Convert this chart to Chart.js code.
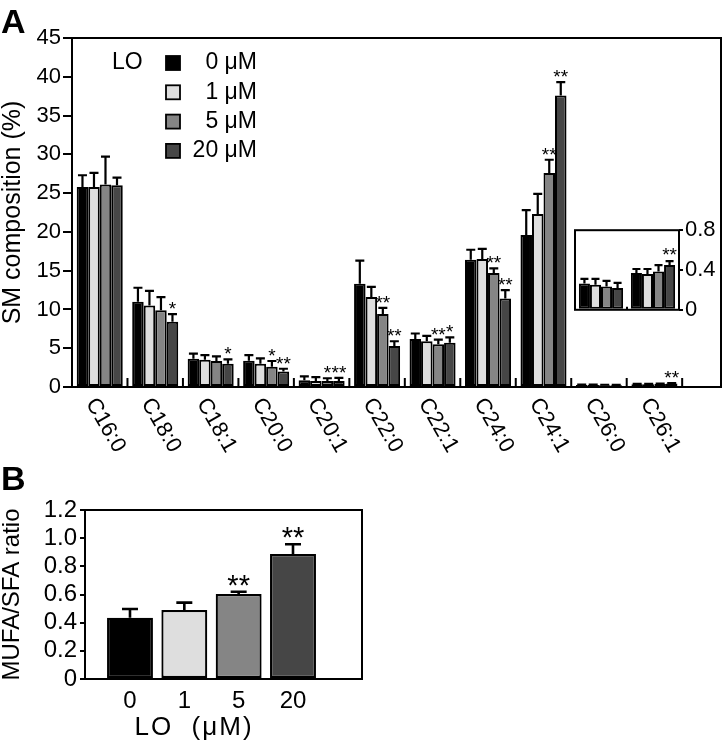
<!DOCTYPE html>
<html>
<head>
<meta charset="utf-8">
<script src="https://cdn.jsdelivr.net/npm/chart.js@4.4.0/dist/chart.umd.min.js"></script>
<style>
  html, body { margin: 0; padding: 0; background: #fff; }
  #wrap { position: relative; width: 724px; height: 749px; overflow: hidden; }
  .panel { position: absolute; }
  .tag { position: absolute; font: bold 34px "Liberation Sans", Arial, sans-serif; line-height: 1; }
</style>
</head>
<body>
<div id="wrap">
  <div class="panel" style="left:0;top:0;width:724px;height:470px"><canvas id="smChart"></canvas></div>
  <div class="panel" style="left:566px;top:215px;width:158px;height:110px"><canvas id="insetChart"></canvas></div>
  <div class="panel" style="left:0;top:460px;width:380px;height:289px"><canvas id="ratioChart"></canvas></div>
  <div class="tag" style="left:1px;top:4px">A</div>
  <div class="tag" style="left:1px;top:461px">B</div>
</div>
<script>
// SM species and LO doses
const fattyAcids = ['C16:0', 'C18:0', 'C18:1', 'C20:0', 'C20:1', 'C22:0', 'C22:1', 'C24:0', 'C24:1', 'C26:0', 'C26:1'];
const doseNames = ['0 \u03bcM', '1 \u03bcM', '5 \u03bcM', '20 \u03bcM'];

// SM composition (%), mean and SD
const lo0 = [25.8, 11.0, 3.65, 3.4, 0.86, 13.3, 6.2, 16.4, 19.6, 0.265, 0.37];
const lo1 = [25.8, 10.5, 3.5, 3.0, 0.78, 11.6, 5.9, 16.5, 22.3, 0.253, 0.36];
const lo5 = [26.1, 9.9, 3.35, 2.6, 0.78, 9.4, 5.5, 14.7, 27.6, 0.235, 0.385];
const lo20 = [26.0, 8.4, 3.0, 2.0, 0.78, 5.3, 5.7, 11.4, 37.6, 0.22, 0.45];
const lo0Sd = [1.5, 1.8, 0.65, 0.7, 0.5, 3.0, 0.7, 1.3, 3.2, 0.045, 0.04];
const lo1Sd = [1.8, 1.9, 0.6, 0.7, 0.5, 1.3, 0.7, 1.3, 2.6, 0.057, 0.05];
const lo5Sd = [3.6, 1.7, 0.6, 0.75, 0.35, 0.8, 0.6, 0.6, 1.7, 0.055, 0.065];
const lo20Sd = [1.0, 1.0, 0.55, 0.35, 0.4, 0.6, 0.7, 1.1, 1.7, 0.05, 0.04];
const lo0Stars = ['', '', '', '', '', '', '', '', '', '', ''];
const lo1Stars = ['', '', '', '', '', '', '', '', '', '', ''];
const lo5Stars = ['', '', '', '*', '*', '**', '**', '**', '**', '', ''];
const lo20Stars = ['', '*', '*', '**', '**', '**', '*', '**', '**', '', '**'];

// MUFA/SFA ratio
const doseTicks = ['0', '1', '5', '20'];
const mufaSfa = [0.435, 0.49, 0.604, 0.888];
const mufaSfaSd = [0.062, 0.052, 0.016, 0.069];
const mufaSfaStars = ['', '', '**', '**'];

const FONT = '"Liberation Sans", Arial, Helvetica, sans-serif';
const barColors = ['#000000', '#dedede', '#858585', '#464646'];

Chart.defaults.font.family = FONT;
Chart.defaults.color = '#000';

function drawErrors(chart, capHalf, lw, starSize, starLift) {
    const ctx = chart.ctx;
    const y = chart.scales.y;
    ctx.save();
    ctx.strokeStyle = '#000';
    ctx.fillStyle = '#000';
    ctx.lineWidth = lw;
    ctx.font = starSize + 'px ' + FONT;
    ctx.textAlign = 'center';
    ctx.textBaseline = 'alphabetic';
    chart.data.datasets.forEach(function (ds, i) {
        chart.getDatasetMeta(i).data.forEach(function (bar, j) {
            const top = y.getPixelForValue(ds.data[j] + ds.sd[j]);
            ctx.beginPath();
            ctx.moveTo(bar.x, bar.y);
            ctx.lineTo(bar.x, top);
            ctx.moveTo(bar.x - capHalf, top);
            ctx.lineTo(bar.x + capHalf, top);
            ctx.stroke();
            if (ds.stars && ds.stars[j]) {
                ctx.fillText(ds.stars[j], bar.x, top + starLift);
            }
        });
    });
    ctx.restore();
}

function drawFrame(chart, lw) {
    const a = chart.chartArea;
    const ctx = chart.ctx;
    ctx.save();
    ctx.strokeStyle = '#000';
    ctx.lineWidth = lw;
    ctx.strokeRect(a.left, a.top, a.right - a.left, a.bottom - a.top);
    ctx.restore();
}

function seriesSets(values, sds, stars, from) {
    return values.map(function (v, i) {
        return {
            label: doseNames[i],
            data: v.slice(from),
            sd: sds[i].slice(from),
            stars: stars[i].slice(from),
            backgroundColor: barColors[i],
            borderColor: '#000',
            borderWidth: 2,
            borderSkipped: false,
            categoryPercentage: 0.83,
            barPercentage: 1.0
        };
    });
}

const allValues = [lo0, lo1, lo5, lo20];
const allSd = [lo0Sd, lo1Sd, lo5Sd, lo20Sd];
const allStars = [lo0Stars, lo1Stars, lo5Stars, lo20Stars];

// Panel A
new Chart(document.getElementById('smChart'), {
    type: 'bar',
    data: {
        labels: fattyAcids,
        datasets: seriesSets(allValues, allSd, allStars, 0)
    },
    options: {
        responsive: true,
        maintainAspectRatio: false,
        animation: false,
        layout: { padding: { top: 38, right: 3, left: 0, bottom: 0 } },
        plugins: { legend: { display: false }, tooltip: { enabled: false } },
        scales: {
            x: {
                ticks: { display: false },
                grid: { display: false },
                border: { display: false },
                afterFit: function (s) { s.height = 83; },
                afterBuildTicks: function (s) { s._startValue = -0.5; s._valueRange = 11.7; }
            },
            y: {
                min: 0,
                max: 45,
                ticks: { stepSize: 5, padding: 2, autoSkip: false, font: { size: 22 } },
                grid: { drawOnChartArea: false, tickLength: 9, lineWidth: 2, color: '#000' },
                border: { display: false },
                title: { display: true, text: 'SM composition (%)', font: { size: 25 }, padding: { top: -2, bottom: 0 } },
                afterFit: function (s) { s.width = 72; }
            }
        }
    },
    plugins: [{
        id: 'panelA',
        afterDatasetsDraw: function (chart) {
            const ctx = chart.ctx;
            const x = chart.scales.x;
            const a = chart.chartArea;
            drawErrors(chart, 4.5, 2.2, 19, 1);
            drawFrame(chart, 2);
            ctx.save();
            // inward ticks between species
            ctx.strokeStyle = '#000';
            ctx.lineWidth = 2;
            ctx.beginPath();
            for (let i = 1; i <= fattyAcids.length; i++) {
                const px = x.getPixelForValue(i - 0.5);
                ctx.moveTo(px, a.bottom);
                ctx.lineTo(px, a.bottom - 9);
            }
            ctx.stroke();
            // slanted species labels
            ctx.fillStyle = '#000';
            ctx.font = '22px ' + FONT;
            ctx.textAlign = 'left';
            ctx.textBaseline = 'middle';
            fattyAcids.forEach(function (lab, i) {
                ctx.save();
                ctx.translate(x.getPixelForValue(i) - 9, a.bottom + 13);
                ctx.rotate(Math.PI / 3);
                ctx.fillText(lab, 0, 0);
                ctx.restore();
            });
            // legend
            ctx.font = '23px ' + FONT;
            ctx.fillText('LO', 112, 63);
            ctx.textAlign = 'right';
            chart.data.datasets.forEach(function (ds, i) {
                const cy = 63 + i * 29.3;
                ctx.fillStyle = ds.backgroundColor;
                ctx.fillRect(166, cy - 7, 14, 14);
                ctx.lineWidth = 1.8;
                ctx.strokeRect(166, cy - 7, 14, 14);
                ctx.fillStyle = '#000';
                ctx.fillText(ds.label, 257, cy);
            });
            ctx.restore();
        }
    }]
});

// Inset: C26 species on expanded scale
new Chart(document.getElementById('insetChart'), {
    type: 'bar',
    data: {
        labels: fattyAcids.slice(9),
        datasets: seriesSets(allValues, allSd, allStars, 9).map(function (d) {
            d.categoryPercentage = 0.85;
            return d;
        })
    },
    options: {
        responsive: true,
        maintainAspectRatio: false,
        animation: false,
        layout: { padding: { top: 10, right: 0, left: 9, bottom: 0 } },
        plugins: { legend: { display: false }, tooltip: { enabled: false } },
        scales: {
            x: {
                ticks: { display: false },
                grid: { display: false },
                border: { display: false },
                afterFit: function (s) { s.height = 9; }
            },
            y: {
                position: 'right',
                min: 0,
                max: 0.8,
                ticks: {
                    stepSize: 0.4,
                    padding: 2,
                    font: { size: 22 },
                    callback: function (v) { return v === 0 ? '0' : v.toFixed(1); }
                },
                grid: { drawOnChartArea: false, tickLength: 4, lineWidth: 2, color: '#000' },
                border: { display: false },
                afterFit: function (s) { s.width = 45; }
            }
        }
    },
    plugins: [{
        id: 'inset',
        afterDatasetsDraw: function (chart) {
            const a = chart.chartArea;
            const ctx = chart.ctx;
            drawErrors(chart, 4, 2.2, 19, 0);
            drawFrame(chart, 2);
            ctx.save();
            ctx.lineWidth = 2;
            ctx.beginPath();
            const mid = chart.scales.x.getPixelForValue(0.5);
            ctx.moveTo(mid, a.bottom);
            ctx.lineTo(mid, a.bottom - 3);
            ctx.stroke();
            ctx.restore();
        }
    }]
});

// Panel B
new Chart(document.getElementById('ratioChart'), {
    type: 'bar',
    data: {
        labels: doseTicks,
        datasets: [{
            label: 'MUFA/SFA',
            data: mufaSfa,
            sd: mufaSfaSd,
            stars: mufaSfaStars,
            backgroundColor: barColors,
            borderColor: '#000',
            borderWidth: 2.2,
            borderSkipped: false,
            categoryPercentage: 0.845,
            barPercentage: 1.0
        }]
    },
    options: {
        responsive: true,
        maintainAspectRatio: false,
        animation: false,
        layout: { padding: { top: 50, right: 18, left: 0, bottom: 0 } },
        plugins: { legend: { display: false }, tooltip: { enabled: false } },
        scales: {
            x: {
                ticks: { padding: 0, font: { size: 24 } },
                grid: { display: false },
                border: { display: false },
                afterFit: function (s) { s.height = 70; },
                afterBuildTicks: function (s) { s._startValue = -0.828; s._valueRange = 5.098; }
            },
            y: {
                min: 0,
                max: 1.2,
                ticks: {
                    stepSize: 0.2,
                    padding: 3,
                    autoSkip: false,
                    font: { size: 24 },
                    callback: function (v) { return v === 0 ? '0' : v.toFixed(1); }
                },
                grid: { drawOnChartArea: false, tickLength: 5, lineWidth: 2, color: '#000' },
                border: { display: false },
                title: { display: true, text: 'MUFA/SFA ratio', font: { size: 24 }, padding: { top: -2, bottom: 0 } },
                afterFit: function (s) { s.width = 85; }
            }
        }
    },
    plugins: [{
        id: 'panelB',
        afterDatasetsDraw: function (chart) {
            const ctx = chart.ctx;
            drawErrors(chart, 8, 2.6, 29, 3);
            drawFrame(chart, 2);
            ctx.save();
            ctx.fillStyle = '#000';
            ctx.font = '26px ' + FONT;
            ctx.letterSpacing = '2px';
            ctx.textAlign = 'center';
            ctx.textBaseline = 'middle';
            ctx.fillText('LO  (\u03bcM)', 194, 268);
            ctx.restore();
        }
    }]
});
</script>
</body>
</html>
